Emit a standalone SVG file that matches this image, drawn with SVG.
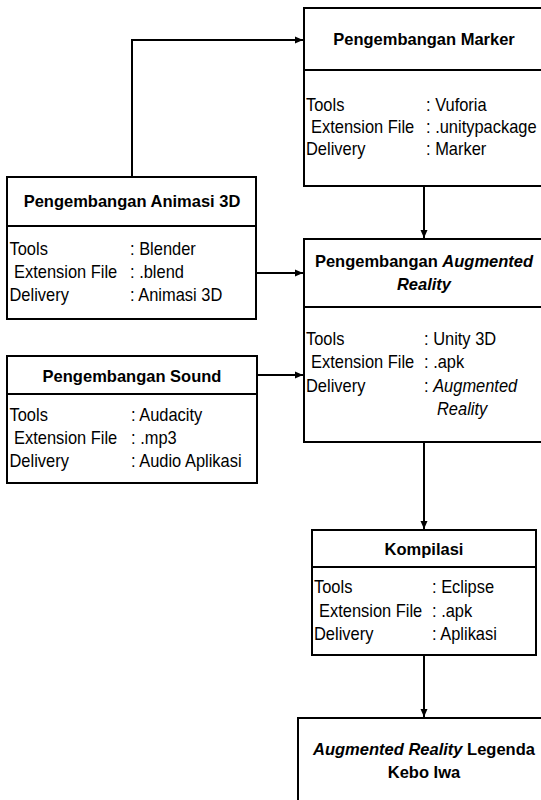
<svg xmlns="http://www.w3.org/2000/svg" width="541" height="800" viewBox="0 0 541 800">
<defs>
<marker id="arr" markerUnits="userSpaceOnUse" markerWidth="9" markerHeight="8" refX="8" refY="4" orient="auto">
<path d="M0,0.5 L8,4 L0,7.5 z" fill="#000"/>
</marker>
<style>
.box{fill:#fff;stroke:#000;stroke-width:2}
.div{stroke:#000;stroke-width:2}
.t{font-family:"Liberation Sans",Arial,sans-serif;font-size:16.5px;font-weight:bold;fill:#000;text-anchor:middle}
.b{font-family:"Liberation Sans",Arial,sans-serif;font-size:17.5px;fill:#000}
.con{fill:none;stroke:#000;stroke-width:2;marker-end:url(#arr)}
</style>
</defs>
<rect width="541" height="800" fill="#fff"/>
<g id="connectors">
<path class="con" d="M132,177 V40 H303"/>
<path class="con" d="M424,187 V238"/>
<path class="con" d="M256,273 H303"/>
<path class="con" d="M257,375 H303"/>
<path class="con" d="M424,442 V529"/>
<path class="con" d="M424,655 V717"/>
</g>
<g id="marker">
<rect class="box" x="304" y="8" width="250" height="178"/>
<line class="div" x1="304" y1="70" x2="554" y2="70"/>
<text class="t" x="424" y="45">Pengembangan Marker</text>
<text class="b" transform="translate(306,111) scale(.94,1)">Tools</text>
<text class="b" transform="translate(311,133) scale(.94,1)">Extension File</text>
<text class="b" transform="translate(306,155) scale(.94,1)">Delivery</text>
<text class="b" transform="translate(426,111) scale(.94,1)">: Vuforia</text>
<text class="b" transform="translate(426,133) scale(.94,1)">: .unitypackage</text>
<text class="b" transform="translate(426,155) scale(.94,1)">: Marker</text>
</g>
<g id="animasi">
<rect class="box" x="7" y="177" width="249" height="142"/>
<line class="div" x1="7" y1="226" x2="256" y2="226"/>
<text class="t" x="132" y="207">Pengembangan Animasi 3D</text>
<text class="b" transform="translate(9.5,255) scale(.94,1)">Tools</text>
<text class="b" transform="translate(14,278) scale(.94,1)">Extension File</text>
<text class="b" transform="translate(9.5,301) scale(.94,1)">Delivery</text>
<text class="b" transform="translate(130,255) scale(.94,1)">: Blender</text>
<text class="b" transform="translate(130,278) scale(.94,1)">: .blend</text>
<text class="b" transform="translate(130,301) scale(.94,1)">: Animasi 3D</text>
</g>
<g id="sound">
<rect class="box" x="7" y="356" width="250" height="127"/>
<line class="div" x1="7" y1="394" x2="257" y2="394"/>
<text class="t" x="132" y="382">Pengembangan Sound</text>
<text class="b" transform="translate(9.5,421) scale(.94,1)">Tools</text>
<text class="b" transform="translate(14,444) scale(.94,1)">Extension File</text>
<text class="b" transform="translate(9.5,467) scale(.94,1)">Delivery</text>
<text class="b" transform="translate(131,421) scale(.94,1)">: Audacity</text>
<text class="b" transform="translate(131,444) scale(.94,1)">: .mp3</text>
<text class="b" transform="translate(131,467) scale(.94,1)">: Audio Aplikasi</text>
</g>
<g id="ar">
<rect class="box" x="304" y="239" width="250" height="203"/>
<line class="div" x1="304" y1="307" x2="554" y2="307"/>
<text class="t" x="424" y="267">Pengembangan <tspan font-style="italic">Augmented</tspan></text>
<text class="t" x="424" y="290" font-style="italic">Reality</text>
<text class="b" transform="translate(306,345) scale(.94,1)">Tools</text>
<text class="b" transform="translate(311,368) scale(.94,1)">Extension File</text>
<text class="b" transform="translate(306,392) scale(.94,1)">Delivery</text>
<text class="b" transform="translate(424,345) scale(.94,1)">: Unity 3D</text>
<text class="b" transform="translate(424,368) scale(.94,1)">: .apk</text>
<text class="b" transform="translate(424,392) scale(.94,1)">: <tspan font-style="italic">Augmented</tspan></text>
<text class="b" font-style="italic" transform="translate(437,415) scale(.94,1)">Reality</text>
</g>
<g id="kompilasi">
<rect class="box" x="312" y="530" width="224" height="125"/>
<line class="div" x1="312" y1="567" x2="536" y2="567"/>
<text class="t" x="424" y="555">Kompilasi</text>
<text class="b" transform="translate(314,593) scale(.94,1)">Tools</text>
<text class="b" transform="translate(319,617) scale(.94,1)">Extension File</text>
<text class="b" transform="translate(314,640) scale(.94,1)">Delivery</text>
<text class="b" transform="translate(432,593) scale(.94,1)">: Eclipse</text>
<text class="b" transform="translate(432,617) scale(.94,1)">: .apk</text>
<text class="b" transform="translate(432,640) scale(.94,1)">: Aplikasi</text>
</g>
<g id="final">
<rect class="box" x="298" y="718" width="254" height="100"/>
<text class="t" x="424" y="755"><tspan font-style="italic">Augmented Reality</tspan> Legenda</text>
<text class="t" x="424" y="778">Kebo Iwa</text>
</g>
</svg>
